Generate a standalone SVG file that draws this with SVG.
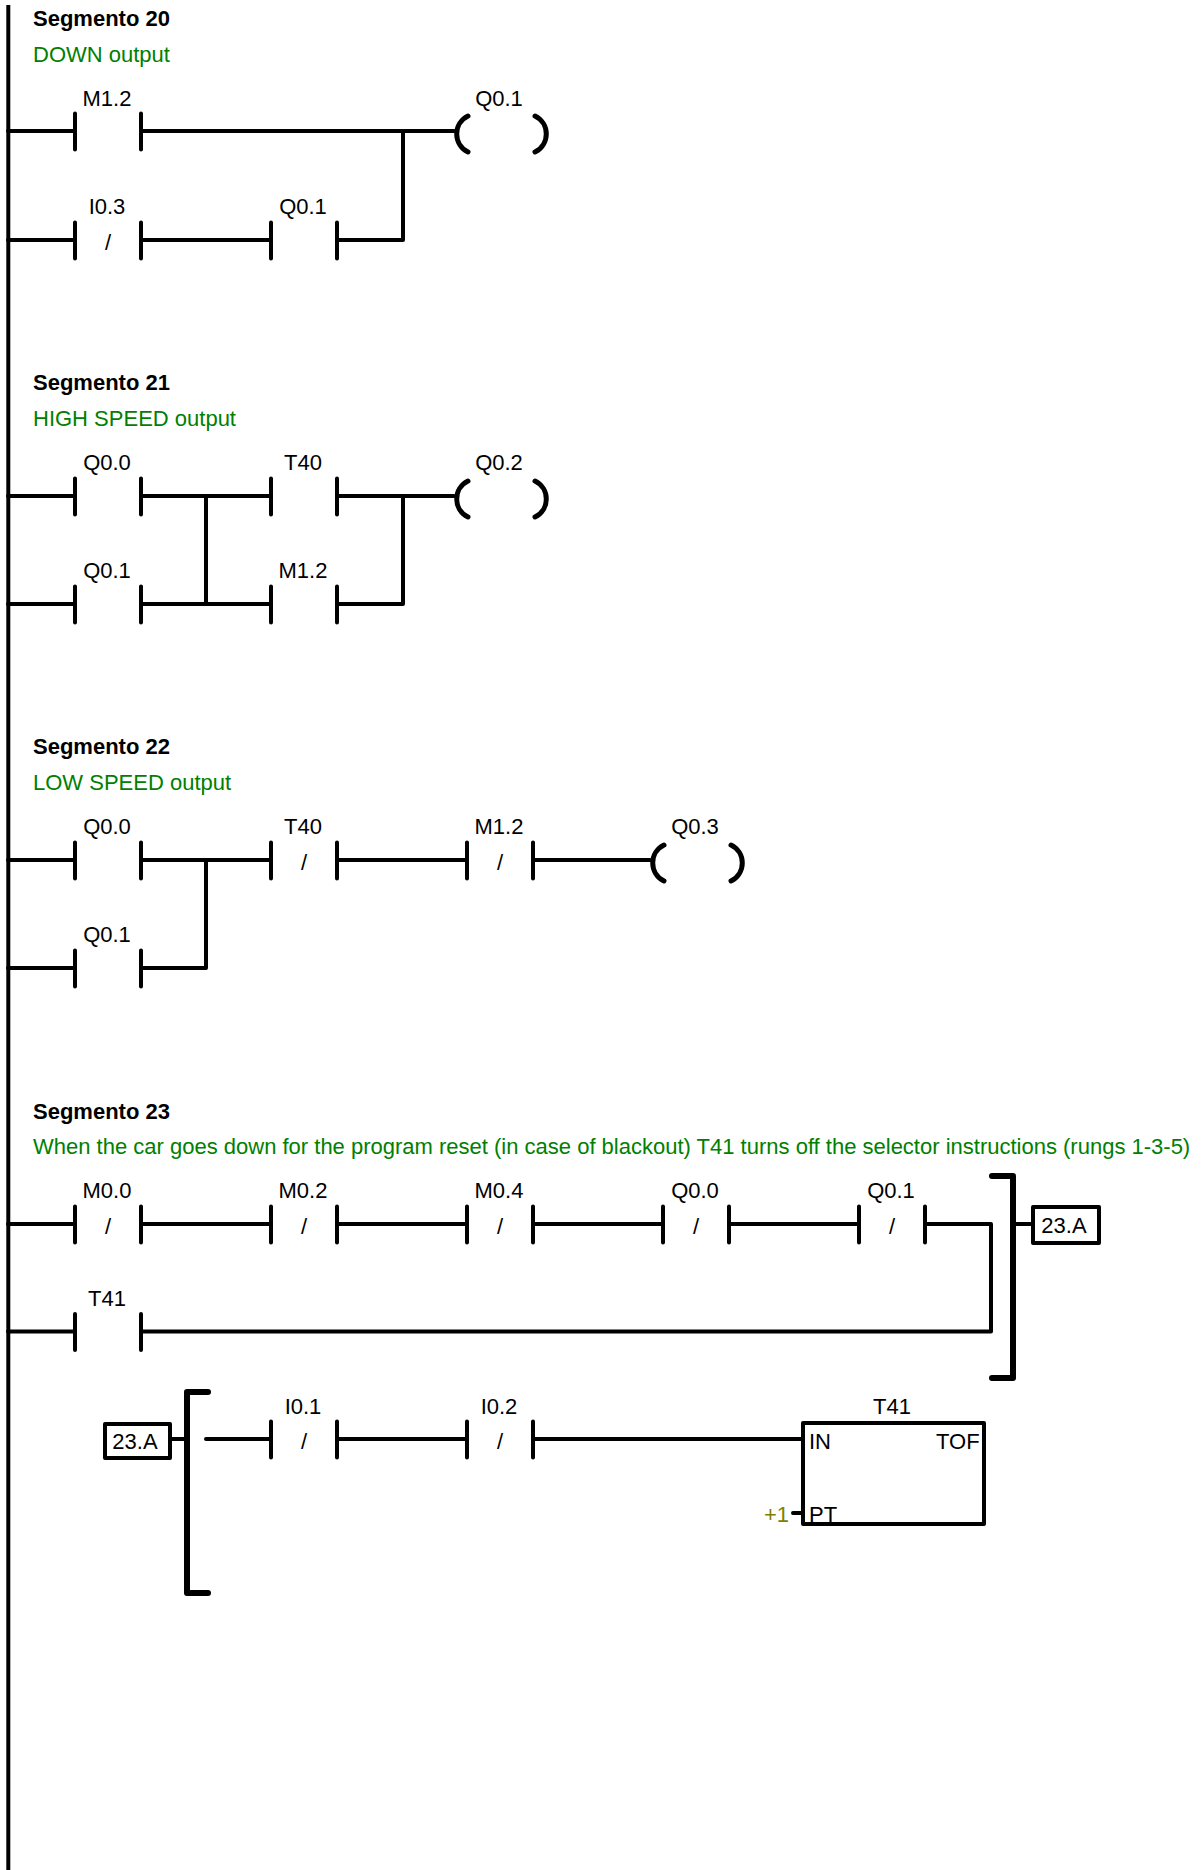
<svg xmlns="http://www.w3.org/2000/svg" width="1202" height="1870" viewBox="0 0 1202 1870">
<style>
text{font-family:"Liberation Sans",Arial,sans-serif;font-size:22px;fill:#000}
.t{font-weight:bold}
.c{fill:#008000}
.m{text-anchor:middle}
.o{fill:#808000}
.w{fill:none;stroke:#000;stroke-width:4;stroke-linecap:round;stroke-linejoin:round}
.b{fill:#fff;stroke:#000;stroke-width:4;stroke-linejoin:round}
.a{fill:none;stroke:#000;stroke-width:5;stroke-linecap:round}
.h{fill:none;stroke:#000;stroke-width:6;stroke-linecap:round;stroke-linejoin:round}
</style>
<defs>
<g id="no"><path class="w" d="M0-17.500V18.500M66-17.500V18.500"/></g>
<g id="nc"><path class="w" d="M0-17.500V18.500M66-17.500V18.500"/><text class="m" x="33" y="10">/</text></g>
<g id="coil"><path class="a" d="M15-15A20 20 0 0 0 15 21M82-15A20 20 0 0 1 82 21"/></g>
</defs>
<path id="rail" d="M8.300 5V1870" fill="none" stroke="#000" stroke-width="4"/>
<g id="connectors">
<path class="w" d="M8 131H75M141 131H454M403 131V240H337M8 240H75M141 240H271"/>
<path class="w" d="M8 496H75M141 496H271M337 496H454M206 496V604M403 496V604H337M8 604H75M141 604H271"/>
<path class="w" d="M8 860H75M141 860H271M337 860H467M533 860H650M206 860V968H141M8 968H75"/>
<path class="w" d="M8 1224H75M141 1224H271M337 1224H467M533 1224H663M729 1224H859M925 1224H991V1331.500H141M8 1331.500H75"/>
<path class="w" d="M1013 1224H1033M170 1439H187M206 1439H271M337 1439H467M533 1439H803M793 1513H803"/>
</g>
<g id="seg20-title"><text class="t" x="33" y="26">Segmento 20</text><text class="c" x="33" y="62">DOWN output</text></g>
<g id="seg20-m12"><use href="#no" x="75" y="131"/><text class="m" x="107" y="106">M1.2</text></g>
<g id="seg20-i03"><use href="#nc" x="75" y="240"/><text class="m" x="107" y="214">I0.3</text></g>
<g id="seg20-q01"><use href="#no" x="271" y="240"/><text class="m" x="303" y="214">Q0.1</text></g>
<g id="seg20-coil"><use href="#coil" x="453" y="131"/><text class="m" x="499" y="106">Q0.1</text></g>
<g id="seg21-title"><text class="t" x="33" y="390">Segmento 21</text><text class="c" x="33" y="426">HIGH SPEED output</text></g>
<g id="seg21-q00"><use href="#no" x="75" y="496"/><text class="m" x="107" y="470">Q0.0</text></g>
<g id="seg21-t40"><use href="#no" x="271" y="496"/><text class="m" x="303" y="470">T40</text></g>
<g id="seg21-q01"><use href="#no" x="75" y="604"/><text class="m" x="107" y="578">Q0.1</text></g>
<g id="seg21-m12"><use href="#no" x="271" y="604"/><text class="m" x="303" y="578">M1.2</text></g>
<g id="seg21-coil"><use href="#coil" x="453" y="496"/><text class="m" x="499" y="470">Q0.2</text></g>
<g id="seg22-title"><text class="t" x="33" y="754">Segmento 22</text><text class="c" x="33" y="790">LOW SPEED output</text></g>
<g id="seg22-q00"><use href="#no" x="75" y="860"/><text class="m" x="107" y="834">Q0.0</text></g>
<g id="seg22-t40"><use href="#nc" x="271" y="860"/><text class="m" x="303" y="834">T40</text></g>
<g id="seg22-m12"><use href="#nc" x="467" y="860"/><text class="m" x="499" y="834">M1.2</text></g>
<g id="seg22-q01"><use href="#no" x="75" y="968"/><text class="m" x="107" y="942">Q0.1</text></g>
<g id="seg22-coil"><use href="#coil" x="649" y="860"/><text class="m" x="695" y="834">Q0.3</text></g>
<g id="seg23-title"><text class="t" x="33" y="1119">Segmento 23</text><text class="c" x="33" y="1154">When the car goes down for the program reset (in case of blackout) T41 turns off the selector instructions (rungs 1-3-5)</text></g>
<g id="seg23-m00"><use href="#nc" x="75" y="1224"/><text class="m" x="107" y="1198">M0.0</text></g>
<g id="seg23-m02"><use href="#nc" x="271" y="1224"/><text class="m" x="303" y="1198">M0.2</text></g>
<g id="seg23-m04"><use href="#nc" x="467" y="1224"/><text class="m" x="499" y="1198">M0.4</text></g>
<g id="seg23-q00"><use href="#nc" x="663" y="1224"/><text class="m" x="695" y="1198">Q0.0</text></g>
<g id="seg23-q01"><use href="#nc" x="859" y="1224"/><text class="m" x="891" y="1198">Q0.1</text></g>
<g id="seg23-t41"><use href="#no" x="75" y="1331.500"/><text class="m" x="107" y="1306">T41</text></g>
<g id="seg23-bracket-r"><path class="h" d="M992 1176H1013V1378H992"/></g>
<g id="seg23-out"><rect class="b" x="1033" y="1207" width="66" height="36"/><text class="m" x="1064" y="1233">23.A</text></g>
<g id="seg23-in"><rect class="b" x="105" y="1424" width="65" height="34"/><text class="m" x="135" y="1449">23.A</text></g>
<g id="seg23-bracket-l"><path class="h" d="M208 1392H187V1593H208"/></g>
<g id="seg23-i01"><use href="#nc" x="271" y="1439"/><text class="m" x="303" y="1414">I0.1</text></g>
<g id="seg23-i02"><use href="#nc" x="467" y="1439"/><text class="m" x="499" y="1414">I0.2</text></g>
<g id="seg23-tof"><rect class="w" x="803" y="1423" width="181" height="101"/><text class="m" x="892" y="1414">T41</text><text x="809" y="1449">IN</text><text x="936" y="1449">TOF</text><text x="809" y="1522">PT</text><text class="o" x="764" y="1522">+1</text></g>
</svg>
